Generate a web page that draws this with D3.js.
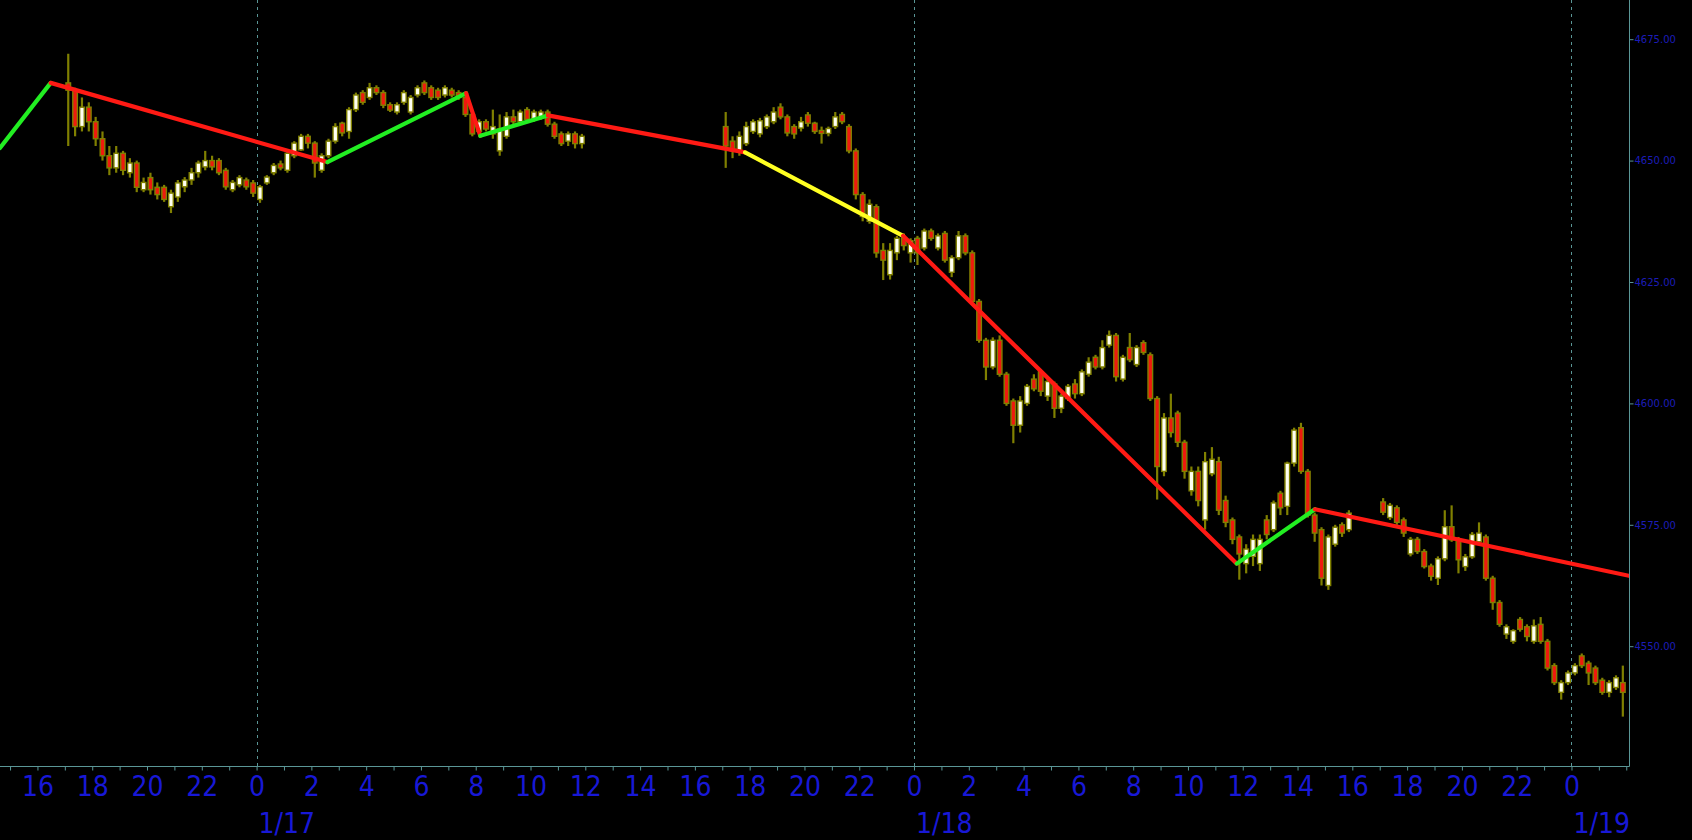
<!DOCTYPE html>
<html><head><meta charset="utf-8">
<script src="https://cdn.jsdelivr.net/npm/d3@7"></script>
<style>
html,body{margin:0;padding:0;background:#000;overflow:hidden}
svg{display:block}
</style></head><body>
<svg id="chart" width="1692" height="840"></svg>
<script>
// ---- DATA ----
// 15-minute bars [open, high, low, close], one array per trading session
const sessionStarts = ["2022-01-16T17:00:00Z", "2022-01-17T17:00:00Z", "2022-01-18T17:00:00Z"];

const barsA = [
[4666,4672,4653,4664.5],[4664.5,4665,4655,4657],[4657,4663,4656,4661],[4661,4662,4656,4658],
[4658,4659,4653,4654.5],[4654.5,4656,4650,4651],[4651,4653,4647,4648.5],[4648.5,4653,4647.5,4651.5],
[4651.5,4652,4647,4648],[4647.5,4650.5,4646.5,4649.5],[4649.5,4650,4643.5,4644.5],[4644,4646.5,4643.5,4645.5],
[4646.5,4647.5,4643,4644],[4644.5,4645.5,4642,4643],[4644.5,4645,4641.5,4642],[4640.5,4644,4639.2,4643.3],
[4642.5,4646,4641.5,4645.4],[4644.6,4646.6,4643.5,4646],[4646,4648.5,4645,4647.5],[4647.5,4650,4646.5,4649.5],
[4648.7,4652,4648,4650],[4650,4651,4648,4648.7],[4650,4650.5,4647,4647.5],[4648,4648.5,4644,4644.6],
[4644,4646,4643.5,4645.5],[4645,4647,4644.5,4646.5],[4646,4646.5,4644,4644.6],[4645.4,4646,4642.5,4643.3],
[4642,4645,4641.3,4644.6],[4645.4,4647,4645,4646.6],[4647.5,4649.5,4647,4649],[4649.3,4650,4648,4648.5],
[4648,4652,4647.5,4651.5],[4651,4654,4650.5,4653.6],[4652.2,4655.5,4652,4655],[4655,4655.5,4652.5,4653.6],
[4653.6,4654,4646.5,4649.5],[4648,4651.5,4647.5,4651],[4651,4654.5,4650.5,4654],[4654,4657.7,4653.5,4657],
[4657.7,4658,4655,4655.7],[4656,4661,4654.5,4660.5],[4660.5,4664,4660,4663.5],[4664,4664.5,4661.5,4662],
[4663,4666,4662.5,4665],[4665,4665.5,4663.5,4664],[4664,4664.5,4660.8,4661.4],[4661.5,4662,4660,4660.4],
[4660,4662,4659.5,4661.5],[4662,4664.5,4661.5,4664],[4660,4663.5,4659.5,4663],[4663.5,4665.5,4663,4665],
[4666,4666.5,4663.5,4664],[4665,4665.5,4662.5,4663],[4664.5,4665,4662.5,4663],[4663.5,4665.5,4663,4665],
[4664.5,4665,4663,4663.5],[4664,4664.5,4662.5,4663],[4663,4663.5,4659,4659.5],[4659.5,4660,4655,4655.5],
[4656,4658.5,4655.5,4658],[4658,4658.5,4656,4656.5],[4655.5,4660.5,4654.5,4657],[4652,4659.5,4651,4656.5],
[4655,4660,4654.5,4659],[4659,4660.5,4657.5,4658],[4658,4660.5,4657.5,4660],[4660.5,4661,4658,4658.5],
[4658.5,4660.5,4658,4660],[4659,4660.5,4658.4,4660],[4660,4660.5,4657,4657.5],[4657.5,4658,4654.5,4655],
[4655.5,4656,4653,4653.5],[4654,4656,4653,4655.5],[4655.5,4656,4652.5,4653.5],[4653.5,4655.5,4652.5,4655]
];

const barsB = [
[4657,4660,4648.5,4653],[4654,4655,4650.5,4652],[4652,4656,4651,4655],[4653.5,4658,4653,4657],
[4656,4658.5,4655.5,4658],[4655.5,4658.8,4654.8,4658.2],[4657,4659.5,4656.5,4659],[4658,4661,4657.5,4660],
[4661,4661.8,4658.5,4659],[4659,4659.5,4655,4655.7],[4657,4657.5,4654.5,4655.5],[4656.7,4659,4656,4658],
[4659.4,4660,4657,4657.7],[4657.7,4658,4655.5,4656],[4656.2,4657,4653.5,4655.6],[4655.6,4657,4655,4656.6],
[4657,4660,4656.5,4659],[4659.5,4660,4657.5,4658],[4657,4657.5,4651.5,4652],[4652,4652.5,4642,4643],
[4643,4643.5,4637.5,4638.5],[4637.5,4642,4637,4641],[4640.5,4641,4630,4631],[4631.5,4633,4625.4,4629.5],
[4626.5,4633,4625.5,4631.5],[4631,4634.5,4629.5,4634],[4634,4635,4631.5,4632.5],[4631,4634,4629,4633.5],
[4634,4634.5,4628.5,4631],[4632,4636,4631.5,4635.5],[4635.5,4636,4633.5,4634],[4632,4635,4631.5,4634.5],
[4635,4635.5,4629,4629.5],[4627,4630.5,4626,4630],[4630,4635.5,4629.5,4634.5],[4634.5,4635,4630.5,4631],
[4631,4631.5,4620.5,4621],[4621,4621.5,4612.5,4613],[4613,4613.5,4604.8,4607.5],[4607.5,4613.6,4607,4613],
[4613,4614,4605.5,4606],[4606,4606.5,4599.5,4600],[4600.5,4601,4591.8,4595.5],[4595.5,4601.5,4594,4600.5],
[4600,4604,4599.5,4603.5],[4605,4606,4602.5,4603],[4606.5,4607,4601.5,4602.5],[4601.5,4605,4600.5,4604.5],
[4604,4604.5,4597,4599],[4599,4602,4598,4601.5],[4601,4604,4600.5,4603.5],[4604,4605,4601,4602],
[4602,4607,4601.5,4606.5],[4606,4609.5,4605.5,4608.5],[4609.5,4610,4607,4607.5],[4607.5,4613,4607,4611.5],
[4612,4615,4611.5,4614],[4614,4614.5,4604.5,4605.5],[4605,4610,4604.5,4609.5],[4611.5,4614.5,4608.5,4609],
[4608,4612,4607.5,4611.5],[4612.5,4613,4610,4610.5],[4610,4610.5,4600.5,4601],[4601,4601.5,4580.2,4587],
[4586,4598,4585,4597],[4597,4602,4593,4594],[4598,4598.5,4591,4592],[4592,4592.5,4584.5,4586],
[4582,4587,4581,4586],[4586,4587,4578.8,4580],[4576,4590,4574,4588],[4585.5,4591,4585,4588.5],
[4588,4589,4577,4578],[4580,4581,4574.5,4575.5],[4576,4576.5,4571,4572],[4572.5,4573,4563.7,4569],
[4567,4571,4565,4570],[4568.5,4573,4566.5,4572],[4567,4573,4565.5,4572],[4576,4577,4572,4573],
[4574,4580,4573.5,4579.5],[4581.5,4582,4577,4578.5],[4578.8,4588,4577,4587.7],[4587.7,4595,4587,4594.5],
[4595,4596,4585.5,4586],[4586,4586.5,4576.5,4577],[4577,4577.5,4571.5,4573.3],[4574,4574.5,4562.5,4564],
[4562.5,4573,4561.6,4572.5],[4571,4575,4570.5,4574.5],[4575,4575.5,4572.5,4573.3],[4574,4578,4573.5,4577.4]
];

const barsC = [
[4579.7,4580.5,4577,4577.6],[4576.5,4579.5,4576,4579],[4578.5,4579,4575,4575.5],[4576,4576.5,4572.5,4573.3],
[4569,4572.5,4568.5,4572],[4572,4572.5,4569,4569.5],[4569.5,4570,4566,4566.4],[4566.5,4567,4563.5,4564.4],
[4564,4568.5,4562.6,4568],[4568,4578,4567.5,4574.6],[4574.6,4579,4571.5,4571.9],[4571.9,4572.5,4565,4567.8],
[4566.4,4569,4565.5,4568.4],[4568.4,4573.5,4568,4573],[4571.5,4575.5,4571,4573.3],[4572.5,4573,4563.5,4564],
[4564,4564.5,4557.5,4559],[4559,4559.5,4554,4554.5],[4552.5,4554.5,4551.5,4554],[4551,4553.5,4550.5,4553.2],
[4555.5,4556,4553,4553.5],[4554,4554.5,4551,4552],[4551,4555.5,4550.5,4554.2],[4554.5,4556,4550.5,4551],
[4551,4551.5,4545,4545.5],[4546,4546.5,4542,4542.5],[4540.5,4543,4539,4542.5],[4542.5,4545,4542,4544.5],
[4544.5,4546.5,4544,4546],[4548,4548.5,4545.5,4546],[4546.5,4547,4542,4544.5],[4545.5,4546,4542,4542.5],
[4543,4543.5,4540,4540.5],[4540.5,4543,4539.5,4542.5],[4541.5,4544,4541,4543.5],[4542.5,4546,4535.5,4540.5]
];

// zigzag overlay: vertices and segment colours
const zigzagTimes = ["2022-01-16T14:38:00Z","2022-01-16T16:29:00Z","2022-01-17T02:35:00Z","2022-01-17T07:39:00Z",
  "2022-01-17T08:10:00Z","2022-01-17T10:38:00Z","2022-01-17T17:50:00Z","2022-01-17T23:36:00Z",
  "2022-01-18T11:47:00Z","2022-01-18T14:38:00Z","2022-01-19T02:06:00Z"];
const zigzagPrices = [4652.6,4666.0,4649.7,4663.9,4655.1,4659.3,4651.7,4634.5,4567.0,4578.2,4564.5];
const zigzagColors = ["green","red","green","red","green","red","yellow","red","green","red"];

const priceTicks = [4550,4575,4600,4625,4650,4675];
const dayTimes = ["2022-01-17T00:00:00Z","2022-01-18T00:00:00Z","2022-01-19T00:00:00Z"];
const dayLabels = ["1/17","1/18","1/19"];

// ---- LAYOUT ----
const plotRight = 1629, plotBottom = 766;
const C = {
  axis: "#5a9696", blue: "#1818d6", blueSmall: "#1c1cb8",
  olive: "#808000", up: "#fffff2", down: "#ee1a0e",
  green: "#22ee22", red: "#ff1a14", yellow: "#ffff22"
};
const fontFam = "'DejaVu Sans Condensed','Liberation Sans Narrow','DejaVu Sans',sans-serif";

const svg = d3.select("#chart");
svg.append("rect").attr("width",1692).attr("height",840).attr("fill","#000");

const x = d3.scaleUtc()
  .domain([new Date("2022-01-16T14:38:00Z"), new Date("2022-01-19T02:06:00Z")])
  .range([0, plotRight]);
const y = d3.scaleLinear().domain([4525.33, 4683.07]).range([plotBottom, 0]);

svg.append("defs").append("clipPath").attr("id","plot")
  .append("rect").attr("x",0).attr("y",0).attr("width",plotRight).attr("height",plotBottom);

// day separators
svg.append("g").selectAll("line").data(dayTimes).join("line")
  .attr("x1",d=>Math.round(x(new Date(d)))+0.5).attr("x2",d=>Math.round(x(new Date(d)))+0.5)
  .attr("y1",0).attr("y2",plotBottom)
  .attr("stroke",C.axis).attr("stroke-width",1).attr("stroke-dasharray","3,4");

// candles
const bars = [];
[barsA, barsB, barsC].forEach((arr, s) => {
  const t0 = new Date(sessionStarts[s]).getTime();
  arr.forEach((b, i) => bars.push({t: new Date(t0 + i*15*60000 + 7.5*60000), o:b[0], h:b[1], l:b[2], c:b[3]}));
});

const gC = svg.append("g").attr("clip-path","url(#plot)");
const cg = gC.selectAll("g.c").data(bars).join("g").attr("class","c");
cg.append("line")
  .attr("x1",d=>x(d.t)).attr("x2",d=>x(d.t))
  .attr("y1",d=>y(d.h)).attr("y2",d=>y(d.l))
  .attr("stroke",C.olive).attr("stroke-width",2.2);
cg.append("rect")
  .attr("x",d=>x(d.t)-2.3).attr("width",4.6)
  .attr("y",d=>y(Math.max(d.o,d.c)))
  .attr("height",d=>Math.max(1.5, Math.abs(y(d.o)-y(d.c))))
  .attr("fill",d=>d.c>=d.o?C.up:C.down)
  .attr("stroke",C.olive).attr("stroke-width",1.4);

// zigzag
const zz = zigzagTimes.map((t,i)=>({x:x(new Date(t)), y:y(zigzagPrices[i])}));
const gZ = svg.append("g").attr("clip-path","url(#plot)");
for (let i=0;i<zz.length-1;i++){
  gZ.append("line")
    .attr("x1",zz[i].x).attr("y1",zz[i].y).attr("x2",zz[i+1].x).attr("y2",zz[i+1].y)
    .attr("stroke",C[zigzagColors[i]]).attr("stroke-width",4.2).attr("stroke-linecap","round");
}

// axes lines
svg.append("line").attr("x1",0).attr("x2",plotRight+0.5).attr("y1",plotBottom+0.5).attr("y2",plotBottom+0.5)
  .attr("stroke",C.axis).attr("stroke-width",1);
svg.append("line").attr("x1",plotRight+0.5).attr("x2",plotRight+0.5).attr("y1",0).attr("y2",plotBottom+0.5)
  .attr("stroke",C.axis).attr("stroke-width",1);

// right price axis
const yAxis = d3.axisRight(y).tickValues(priceTicks).tickSize(4).tickPadding(1)
  .tickFormat(d3.format(".2f"));
const gy = svg.append("g").attr("transform",`translate(${plotRight+0.5},0)`).call(yAxis);
gy.select(".domain").remove();
gy.selectAll(".tick line").attr("stroke",C.axis);
gy.selectAll(".tick text").attr("fill",C.blueSmall).attr("font-size",10)
  .attr("font-family","Tahoma,'DejaVu Sans',sans-serif");

// bottom time axis: hourly ticks, even-hour labels
const hourTicks = d3.utcHour.range(new Date("2022-01-16T15:00:00Z"), new Date("2022-01-19T02:01:00Z"));
const xAxis = d3.axisBottom(x).tickValues(hourTicks).tickSize(4).tickPadding(6)
  .tickFormat(d => (d.getUTCHours()%2===0 && d <= new Date("2022-01-19T00:00:00Z")) ? String(d.getUTCHours()) : "");
const gx = svg.append("g").attr("transform",`translate(0,${plotBottom+0.5})`).call(xAxis);
gx.select(".domain").remove();
gx.selectAll(".tick line").attr("stroke",C.axis);
gx.selectAll(".tick text").attr("fill",C.blue).attr("font-size",28).attr("font-family",fontFam);

// date labels
svg.append("g").selectAll("text").data(dayTimes).join("text")
  .attr("x",d=>x(new Date(d))+2).attr("y",833)
  .attr("fill",C.blue).attr("font-size",28).attr("font-family",fontFam)
  .text((d,i)=>dayLabels[i]);
</script>
</body></html>
